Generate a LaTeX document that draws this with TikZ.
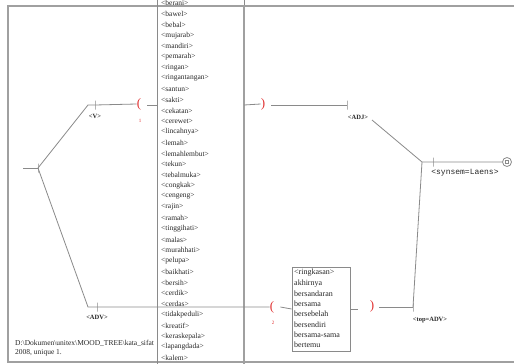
\documentclass[tikz,border=0pt]{standalone}
\usepackage{fontspec}
\setmainfont{Liberation Serif}
\newfontfamily\monof{Liberation Mono}
\definecolor{lineg}{HTML}{8A8A8A}
\definecolor{frameg}{HTML}{A0A0A0}
\definecolor{parred}{HTML}{E03030}
\begin{document}
\begin{tikzpicture}[x=1pt,y=-1pt,
  wire/.style={draw=lineg, line width=0.8pt},
  frame/.style={draw=frameg, line width=1.8pt},
  tick/.style={draw=lineg, line width=0.8pt, shape=rectangle, minimum width=0pt, minimum height=9pt, inner sep=0pt},
  paren/.style={text=parred, font=\fontsize{13}{13}\selectfont, inner sep=0pt},
  subn/.style={text=parred, font=\fontsize{5}{5}\selectfont, inner sep=0pt},
  outlab/.style={font=\bfseries\fontsize{6.5}{6.5}\selectfont, text=black!85, inner sep=0pt},
  entry/.style={font=\fontsize{7.5}{7.5}\selectfont, text=black!85, inner sep=0pt, anchor=west},
  wentry/.style={font=\fontsize{8}{8}\selectfont, text=black!85, inner sep=0pt, anchor=west},
  boxline/.style={draw=lineg, line width=0.8pt},
  foot/.style={font=\fontsize{7.5}{7.5}\selectfont, text=black!85, inner sep=0pt, anchor=west}
  ]
\useasboundingbox (0,0) rectangle (514,364);
\clip (0,0) rectangle (514,364);
% page frame
\draw[frame] (516,6) -- (8,6) -- (8,362) -- (516,362);
% list box
\draw[boxline] (157,-4) rectangle (244,370);
\draw[frame] (244,5) -- (244,366);
\foreach \w [count=\i] in {<berani>,<bawel>,<bebal>,<mujarab>,<mandiri>,<pemarah>,<ringan>,<ringantangan>,<santun>,<sakti>,<cekatan>,<cerewet>,<lincahnya>,<lemah>,<lemahlembut>,<tekun>,<tebalmuka>,<congkak>,<cengeng>,<rajin>,<ramah>,<tinggihati>,<malas>,<murahhati>,<pelupa>,<baikhati>,<bersih>,<cerdik>,<cerdas>,<tidakpeduli>,<kreatif>,<keraskepala>,<lapangdada>,<kalem>}
  \node[entry] (e\i) at (161,{3+(\i-1)*10.75}) {\w};
% lower word box
\node[draw=lineg, line width=0.8pt, minimum width=58pt, minimum height=84pt, inner sep=0pt] (wbox) at (321,309) {};
\foreach \w [count=\i] in {<ringkasan>,akhirnya,bersandaran,bersama,bersebelah,bersendiri,bersama-sama,bertemu}
  \node[wentry] (w\i) at (294,{273+(\i-1)*10.3}) {\w};
% nodes
\coordinate (start) at (23,168);
\node[tick] (init) at (38,168) {};
\coordinate (c1) at (88,105);
\coordinate (c2) at (88,307);
\node[tick] (vnode) at (95,105) {};
\node[outlab] (vlab) at (95,116) {<V>};
\node[paren] (lp1) at (139,104) {(};
\node[subn] (lp1n) at (140,121) {1};
\coordinate (lin) at (157,105);
\coordinate (lout) at (244,105);
\node[paren] (rp1) at (263,104) {)};
\node[tick] (adjnode) at (347,105) {};
\node[outlab] (adjlab) at (358,117) {<ADJ>};
\coordinate (adjout) at (372,120);
\coordinate (corner) at (422,162);
\node[tick] (synnode) at (433,162) {};
\node[font=\monof\fontsize{8}{8}\selectfont, text=black!85, inner sep=0pt] (synlab) at (465,173) {<synsem=Laens>};
\node[draw=lineg, line width=0.8pt, circle, minimum size=9pt, inner sep=0pt] (final) at (507,162) {};
\node[draw=lineg, line width=0.6pt, minimum size=3.5pt, inner sep=0pt] (finsq) at (507,162) {};
\node[tick] (advnode) at (97,307) {};
\node[outlab] (advlab) at (97,317) {<ADV>};
\node[paren] (lp2) at (272,307) {(};
\node[subn] (lp2n) at (273,323) {2};
\node[paren] (rp2) at (372,306) {)};
\node[tick] (topnode) at (413,307) {};
\node[outlab] (toplab) at (430,320) {<top=ADV>};
% connectors
\draw[wire] (start) -- (init.center);
\draw[wire] (init.center) -- (c1) -- (vnode.center) -- (lp1.west);
\draw[wire] (lp1.east) ++(6,1) -- (lin);
\draw[wire] (lout) -- (rp1.west);
\draw[wire] (rp1.east) ++(6,1) -- (adjnode.center);
\draw[wire] (adjout) -- (corner) -- (synnode.center) -- (final.west);
\draw[wire] (init.center) -- (c2) -- (advnode.center) -- (lp2.west);
\draw[wire] (lp2.east) ++(6,0) -- (wbox.west);
\draw[wire] (wbox.east) -- ++(8,0);
\draw[wire] (rp2.east) ++(5,1) -- (topnode.center);
\draw[wire] (topnode.center) -- (corner);
% footer
\node[foot] (f1) at (15,343) {D:\textbackslash Dokumen\textbackslash unitex\textbackslash MOOD\_TREE\textbackslash kata\_sifat};
\node[foot] (f2) at (15,353) {2008, unique 1.};
\end{tikzpicture}
\end{document}
